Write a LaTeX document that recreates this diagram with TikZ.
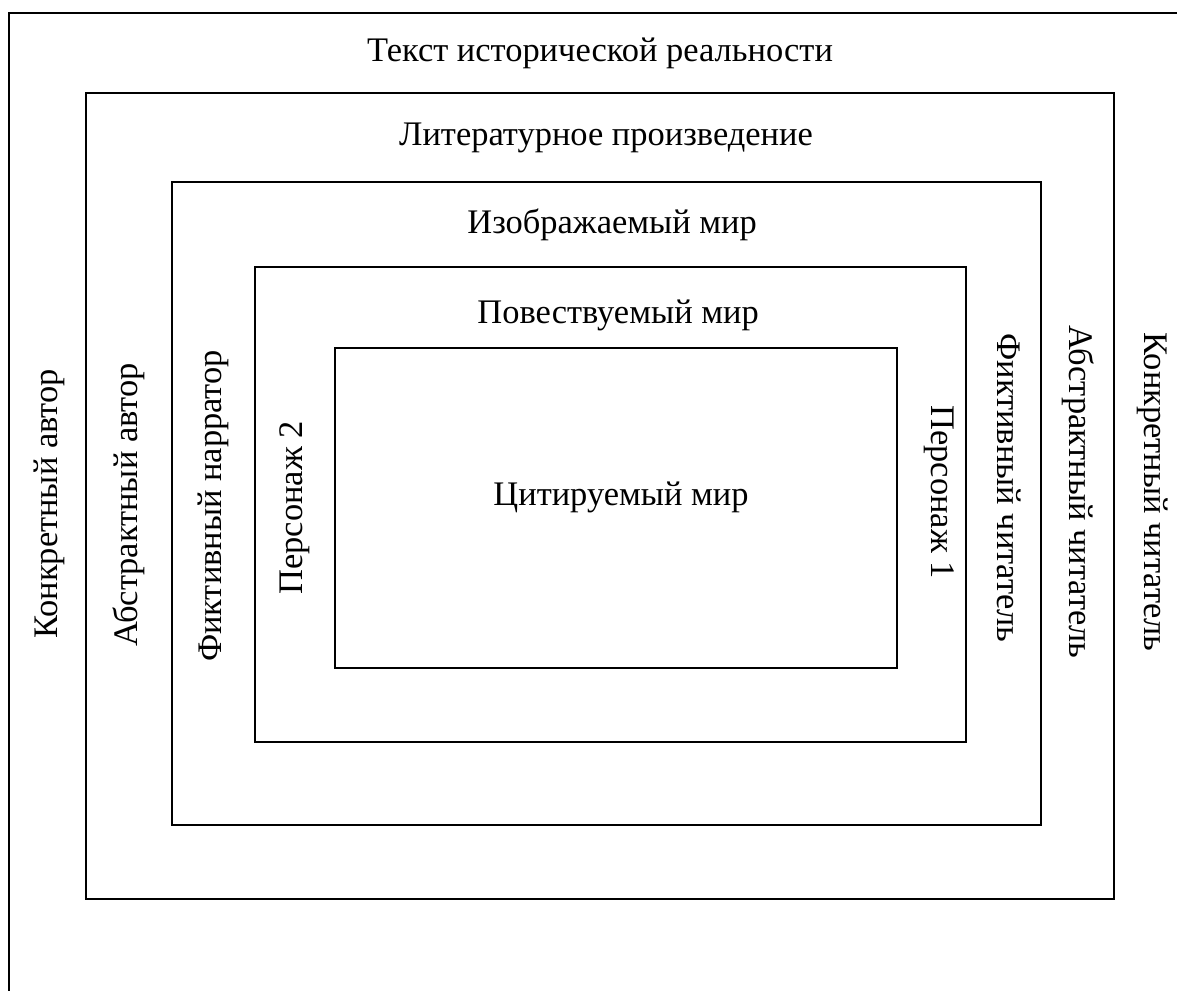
\documentclass[tikz,border=0pt]{standalone}
\usepackage{fontspec}
\setmainfont{Liberation Serif}
\usetikzlibrary{positioning}

\begin{document}
\begin{tikzpicture}[
    x=0.025cm, y=-0.025cm,
    box/.style={
        rectangle,
        draw=black,
        line width=1.8pt,
        inner sep=0pt
    },
    caption/.style={
        font=\fontsize{24.5}{29}\selectfont,
        inner sep=0pt,
        anchor=base
    },
    sidelabel/.style={
        font=\fontsize{24.5}{29}\selectfont,
        inner sep=0pt,
        text height=0.66em,
        text depth=0pt,
        rotate=#1
    }
]
\useasboundingbox (0,0) rectangle (1177,991);

% Outer frame, cut off at the right and the bottom
\coordinate (frame sw) at (9,991);
\coordinate (frame nw) at (9,13);
\coordinate (frame ne) at (1177,13);
\draw[line width=1.8pt] (frame sw) -- (frame nw) -- (frame ne);

% Nested boxes
\node[box, minimum width=25.7cm, minimum height=20.15cm] (work) at (600,496) {};
\node[box, minimum width=21.725cm, minimum height=16.075cm] (depicted) at (606.5,503.5) {};
\node[box, minimum width=17.775cm, minimum height=11.875cm] (narrated) at (610.5,504.5) {};
\node[box, minimum width=14.05cm, minimum height=8cm] (quoted) at (616,508) {};

% Box titles
\node[caption] (history label) at (600,62) {Текст исторической реальности};
\node[caption, below=1.35cm of work.north, anchor=base, xshift=0.15cm] (work label) {Литературное произведение};
\node[caption, below=1.325cm of depicted.north, anchor=base, xshift=0.14cm] (depicted label) {Изображаемый мир};
\node[caption, below=1.45cm of narrated.north, anchor=base, xshift=0.19cm] (narrated label) {Повествуемый мир};
\node[caption, below=3.975cm of quoted.north, anchor=base, xshift=0.125cm] (quoted label) {Цитируемый мир};

% Senders (left)
\node[sidelabel=90] (real author) at (52.5,504) {Конкретный автор};
\node[sidelabel=90] (abstract author) at (132.5,505) {Абстрактный автор};
\node[sidelabel=90] (narrator) at (217,506) {Фиктивный нарратор};
\node[sidelabel=90] (character two) at (297.5,508) {Персонаж 2};

% Receivers (right)
\node[sidelabel=-90] (character one) at (936,492) {Персонаж 1};
\node[sidelabel=-90] (fictive reader) at (1002,488) {Фиктивный читатель};
\node[sidelabel=-90] (abstract reader) at (1074,492) {Абстрактный читатель};
\node[sidelabel=-90] (real reader) at (1149,492) {Конкретный читатель};

\end{tikzpicture}
\end{document}
